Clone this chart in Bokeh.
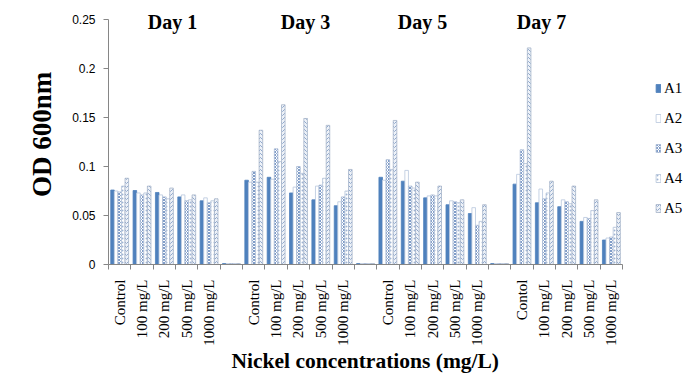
import math
import numpy as np
from bokeh.plotting import figure
from bokeh.models import (ColumnDataSource, FixedTicker, Legend, LegendItem,
                          Range1d, CustomJSTickFormatter, Title)
from bokeh.core.properties import value
from bokeh.embed import file_html
from bokeh.resources import INLINE

# ---------------- data ----------------
days = ["Day 1", "Day 3", "Day 5", "Day 7"]
tick_labels = ["Control", "100 mg/L", "200 mg/L", "500 mg/L", "1000 mg/L", "",
               "Control", "100 mg/L", "200 mg/L", "500 mg/L", "1000 mg/L", "",
               "Control", "100 mg/L", "200 mg/L", "500 mg/L", "1000 mg/L", "",
               "Contol", "100 mg/L", "200 mg/L", "500 mg/L", "1000 mg/L"]
series_names = ["A1", "A2", "A3", "A4", "A5"]
x_title = "Nickel concentrations (mg/L)"
y_title = "OD 600nm"

A1 = [0.076, 0.0755, 0.0735, 0.069, 0.065, 0.001,
      0.086, 0.089, 0.073, 0.066, 0.060, 0.001,
      0.089, 0.085, 0.068, 0.061, 0.052, 0.001,
      0.082, 0.063, 0.059, 0.044, 0.025]
A2 = [0.075, 0.073, 0.071, 0.071, 0.068, 0.001,
      0.084, 0.087, 0.079, 0.080, 0.064, 0.001,
      0.086, 0.096, 0.070, 0.065, 0.058, 0.001,
      0.092, 0.077, 0.066, 0.048, 0.027]
A3 = [0.074, 0.071, 0.069, 0.065, 0.063, 0.001,
      0.095, 0.118, 0.100, 0.081, 0.069, 0.001,
      0.107, 0.080, 0.071, 0.064, 0.040, 0.001,
      0.117, 0.067, 0.064, 0.047, 0.028]
A4 = [0.080, 0.073, 0.067, 0.066, 0.065, 0.001,
      0.084, 0.105, 0.093, 0.088, 0.075, 0.001,
      0.097, 0.078, 0.070, 0.063, 0.044, 0.001,
      0.103, 0.073, 0.062, 0.055, 0.038]
A5 = [0.088, 0.080, 0.078, 0.071, 0.067, 0.001,
      0.137, 0.163, 0.149, 0.142, 0.097, 0.001,
      0.147, 0.084, 0.080, 0.066, 0.061, 0.001,
      0.221, 0.085, 0.080, 0.066, 0.053]
y_ticks = [0, 0.05, 0.1, 0.15, 0.2, 0.25]

# ---------------- layout / style ----------------
n = len(tick_labels)
W, H = 698, 375
left, right, top, bottom = 108, 2, 4, 111
frame_w = W - left - right
frame_h = H - top - bottom
cat_px = 22.35          # pixels per category
unit_px = 980.0         # pixels per OD unit
x_end = -0.5 + frame_w / cat_px
y_end = frame_h / unit_px

bar_w = 0.16
offsets = [-0.32, -0.16, 0.0, 0.16, 0.32]
styles = [
    dict(fill_color="#4F81BD", line_color="#4F81BD", hatch_pattern=None),
    dict(fill_color="#FFFFFF", line_color="#B8C7DD", hatch_pattern=None),
    dict(fill_color="#FFFFFF", line_color="#A9BAD4", hatch_pattern="x",
         hatch_color="#7F9CC8", hatch_scale=3.0),
    dict(fill_color="#FFFFFF", line_color="#B3C2D8", hatch_pattern=".",
         hatch_color="#9FB4D3", hatch_scale=4.0),
    dict(fill_color="#EEF2F8", line_color="#A4B3C8", hatch_pattern="v",
         hatch_color="#8FA8CC", hatch_scale=4.0),
]

p = figure(width=W, height=H, output_backend="svg", toolbar_location=None,
           x_range=Range1d(-0.5, x_end), y_range=Range1d(0, y_end),
           min_border_left=left, min_border_right=right, min_border_top=top,
           min_border_bottom=bottom)
p.outline_line_color = None
p.xgrid.visible = False
p.ygrid.visible = False
p.background_fill_color = "white"

renderers = []
xs = np.arange(n)
for name, vals, off, st in zip(series_names, [A1, A2, A3, A4, A5], offsets, styles):
    src = ColumnDataSource(dict(x=xs + off, top=vals))
    kw = dict(st)
    hp = kw.pop("hatch_pattern")
    if hp is not None:
        kw["hatch_pattern"] = hp
    r = p.vbar(x="x", top="top", width=bar_w, bottom=0, source=src,
               line_width=0.8, **kw)
    renderers.append((name, r))

# day labels
day_x = [2.36, 8.31, 13.55, 18.87]
day_y = [0.2475] * 4
p.text(x=day_x, y=day_y, text=days, text_font=value("Liberation Serif"),
       text_font_style="bold", text_font_size="20px", text_align="center",
       text_baseline="middle", text_color="#000000")

# axes
xa = p.xaxis[0]
major = [i for i, t in enumerate(tick_labels) if t]
xa.bounds = (-0.5, n - 0.5)
xa.ticker = FixedTicker(ticks=major, minor_ticks=[k - 0.5 for k in range(n + 1)])
xa.major_label_overrides = {i: tick_labels[i] for i in major}
xa.major_label_orientation = math.pi / 2
xa.major_tick_out = 0
xa.major_tick_in = 0
xa.minor_tick_out = 5
xa.minor_tick_in = 0
xa.axis_line_color = "#868686"
xa.minor_tick_line_color = "#868686"
xa.major_label_text_font = "Liberation Serif"
xa.major_label_text_font_size = "15px"
xa.major_label_text_color = "#000000"
xa.major_label_standoff = 10

# x-axis title centred under the axis (not the whole frame)
xt = Title(text=x_title, align="left", offset=123,
           text_font="Liberation Serif", text_font_style="bold",
           text_font_size="21.5px", text_color="#000000", standoff=0,
           vertical_align="top")
p.add_layout(xt, "below")

ya = p.yaxis[0]
ya.bounds = (0, 0.25)
ya.ticker = FixedTicker(ticks=y_ticks, minor_ticks=[])
ya.formatter = CustomJSTickFormatter(code="return tick.toString();")
ya.major_tick_out = 5
ya.major_tick_in = 0
ya.minor_tick_out = 0
ya.minor_tick_in = 0
ya.axis_line_color = "#868686"
ya.major_tick_line_color = "#868686"
ya.major_label_text_font = "Liberation Sans"
ya.major_label_text_font_size = "12px"
ya.major_label_text_color = "#000000"
ya.major_label_standoff = 8
ya.axis_label = y_title
ya.axis_label_text_font = "Liberation Serif"
ya.axis_label_text_font_style = "bold"
ya.axis_label_text_font_size = "27px"
ya.axis_label_text_color = "#000000"
ya.axis_label_standoff = 12

legend = Legend(items=[LegendItem(label=nm, renderers=[r]) for nm, r in renderers],
                location=(547, 46), orientation="vertical",
                glyph_width=6, glyph_height=10, label_height=20, spacing=10,
                label_standoff=3, padding=5, margin=0,
                label_text_font="Liberation Serif", label_text_font_size="15px",
                label_text_color="#000000",
                background_fill_alpha=0, border_line_color=None)
p.add_layout(legend, "center")

open("out.html", "w").write(file_html(p, INLINE))
